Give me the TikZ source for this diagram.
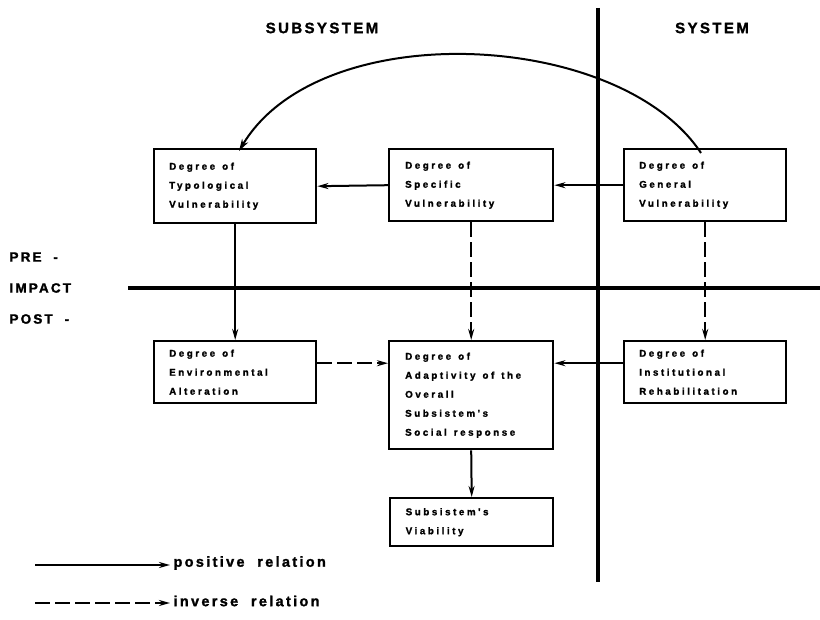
\documentclass[tikz,border=0pt]{standalone}
\usepackage{fontspec}
\setmainfont{Liberation Sans}
\newfontfamily\boxfont[LetterSpace=26,FakeBold=1.5]{Liberation Sans Bold}
\newfontfamily\headfont[LetterSpace=16,FakeBold=1.5,WordSpace=2]{Liberation Sans Bold}
\newcommand\gp{\hspace{7pt}}
\usetikzlibrary{arrows.meta}
\begin{document}
\begin{tikzpicture}[x=1pt,y=-1pt,
  box/.style={draw,line width=2.4pt,anchor=north west,inner xsep=14pt,inner ysep=0pt,
    align=left,font=\boxfont\fontsize{9.8}{19}\selectfont,text width=#1},
  box/.default=132pt,
  divider/.style={line width=3.6pt},
  rel/.style={line width=2pt,-{Stealth[length=11pt,width=6pt]}},
  inv/.style={rel,dash pattern=on 15pt off 5pt},
  head/.style={font=\headfont\fontsize{15}{17}\selectfont},
  side/.style={font=\headfont\fontsize{13.5}{15}\selectfont,anchor=west},
  leg/.style={font=\headfont\fontsize{14.5}{16}\selectfont,anchor=west}]
\useasboundingbox (0,0) rectangle (820,620);
% dividers
\coordinate (vt) at (598,8);
\coordinate (vb) at (598,582);
\coordinate (hl) at (128,288);
\coordinate (hr) at (820,288);
\draw[divider] (vt) -- (vb);
\draw[divider] (hl) -- (hr);
% headings
\node[head] (sub) at (322,28) {SUBSYSTEM};
\node[head] (sys) at (712,28) {SYSTEM};
\node[side] (pre) at (6,257) {PRE -};
\node[side] (imp) at (6,288) {IMPACT};
\node[side] (post) at (6,319) {POST -};
% boxes
\node[box,minimum width=162pt,minimum height=74pt] (typ) at (153,148) {Degree\gp of\\Typological\\Vulnerability};
\node[box,minimum width=164pt,minimum height=72pt] (spec) at (388,148) {Degree\gp of\\Specific\\Vulnerability};
\node[box,minimum width=162pt,minimum height=72pt] (gen) at (623,148) {Degree\gp of\\General\\Vulnerability};
\node[box,minimum width=162pt,minimum height=62pt] (env) at (153,340) {Degree\gp of\\Environmental\\Alteration};
\node[box,minimum width=164pt,minimum height=108pt] (adapt) at (388,340) {Degree\gp of\\Adaptivity\gp of\gp the\\Overall\\Subsistem's\\Social\gp response};
\node[box,minimum width=162pt,minimum height=62pt] (inst) at (623,340) {Degree\gp of\\Institutional\\Rehabilitation};
\node[box,minimum width=163pt,minimum height=48pt] (viab) at (389,497) {Subsistem's\\Viability};
% connectors
\draw[rel] (spec.west) -- (typ.east);
\draw[rel] (gen.west) -- (spec.west -| spec.east);
\draw[rel] (typ.south) -- (env.north);
\draw[inv] (spec.south) -- (adapt.north);
\draw[inv] (gen.south) -- (inst.north);
\draw[inv] ([yshift=9pt]env.east) -- ([yshift=9pt]env.east -| adapt.west);
\draw[rel] ([yshift=9pt]inst.west) -- ([yshift=9pt]inst.west -| adapt.east);
\draw[rel] (adapt.south) -- (viab.north);
\draw[line width=2pt,-{Stealth[length=12pt,width=7pt]}] ([xshift=78pt,yshift=-5pt]gen.north west)
  .. controls (620,30) and (320,15) .. ([xshift=86pt,yshift=-3pt]typ.north west);
% legend
\coordinate (p0) at (35,565);
\coordinate (i0) at (35,603);
\node[leg] (pos) at (170,563) {positive relation};
\node[leg] (inv) at (170,601) {inverse relation};
\draw[rel] (p0) -- (p0 -| pos.west);
\draw[inv] (i0) -- (i0 -| inv.west);
\end{tikzpicture}
\end{document}
